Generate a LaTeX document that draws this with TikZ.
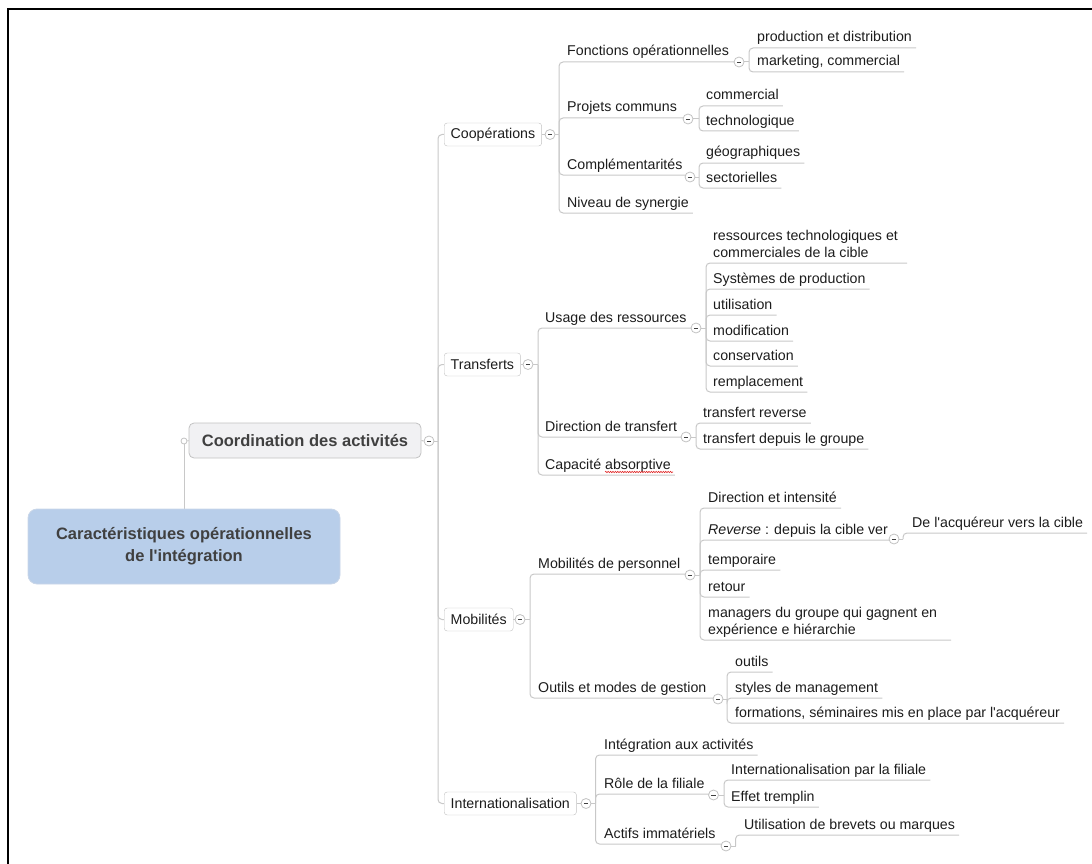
\documentclass[tikz,border=0pt]{standalone}
\usepackage{fontspec}
\setmainfont{Liberation Sans}
\usetikzlibrary{decorations.pathmorphing}
\definecolor{lncol}{HTML}{C8C8C8}
\definecolor{boxbd}{HTML}{C2C2C2}
\definecolor{rootfill}{HTML}{B8CEEA}
\definecolor{rootbd}{HTML}{C9D6E8}
\definecolor{cofill}{HTML}{F1F1F3}
\definecolor{txt}{HTML}{1C1C1C}
\definecolor{btxt}{HTML}{404040}
\definecolor{spell}{HTML}{E02828}
\pgfdeclarelayer{bg}
\pgfsetlayers{bg,main}
\newcommand\sq{\textquotesingle}
% leaf: name, text x, underline y, bracket x, join y, text
\newcommand\lf[6]{%
  \node[topic] (#1) at (#2,#3-6) {#6};
  \begin{pgfonlayer}{bg}\draw[ln] (#4,#5) |- ([xshift=4pt,yshift=-6pt]#1.base east);\end{pgfonlayer}}
% parent: name, text x, underline y, parent bracket x, parent join y, toggle x, toggle y, own bracket x, text
\newcommand\pr[9]{%
  \node[topic] (#1) at (#2,#3-6) {#9};
  \node[tog] (#1t) at (#6,#7) {};
  \begin{pgfonlayer}{bg}
  \draw[ln] (#4,#5) |- (#6-4,#3);
  \draw[ln] (#1t.east) -- (#8,#7);
  \end{pgfonlayer}}
% level one: name, centre y, toggle x, bracket x, text
\newcommand\lv[5]{%
  \node[lvl] (#1) at (444,#2) {#5};
  \node[tog] (#1t) at (#3,#2) {};
  \begin{pgfonlayer}{bg}
  \draw[ln] (trunk) |- (#1.west);
  \draw[ln] (#1.east) -- (#1t.west);
  \draw[ln] (#1t.east) -- (#4,#2);
  \end{pgfonlayer}}
\begin{document}
\begin{tikzpicture}[x=1pt,y=-1pt,
  ln/.style={draw=lncol, line width=1pt, rounded corners=4pt},
  topic/.style={inner sep=0pt, anchor=base west, text=txt, font=\fontsize{14.2}{17}\selectfont},
  lvl/.style={draw=boxbd, fill=white, rounded corners=3pt, minimum height=23pt, inner xsep=6.5pt, inner ysep=0pt, anchor=west, text=txt, font=\fontsize{14.2}{17}\selectfont},
  tog/.style={circle, draw=boxbd, fill=white, minimum size=10pt, inner sep=0pt, line width=0.8pt,
    path picture={\draw[btxt, line width=0.9pt] ([xshift=-2.2pt]path picture bounding box.center) -- ([xshift=2.2pt]path picture bounding box.center);}},
  bigbox/.style={rounded corners=9pt, text=btxt, font=\fontsize{16.5}{22}\selectfont\bfseries, align=center, line width=0.8pt}
]
\useasboundingbox (0,0) rectangle (1092,864);
\draw[line width=2pt, black] (8,864) -- (8,9.5) -- (1092,9.5);

% root and main topic
\node[bigbox, draw=rootbd, fill=rootfill, minimum width=312pt, minimum height=75pt] (root) at (184,546.5) {Caractéristiques opérationnelles\\de l\sq intégration};
\node[bigbox, rounded corners=5pt, draw=boxbd, fill=cofill, minimum width=232pt, minimum height=35pt] (coord) at (305,440.5) {Coordination des activités};
\node[circle, draw=boxbd, fill=white, minimum size=6pt, inner sep=0pt, line width=0.8pt] (rc) at (184,441) {};
\node[tog] (coordt) at (429,441) {};
\coordinate (trunk) at (438,441);
\begin{pgfonlayer}{bg}
\draw[ln] (rc.south) -- (root.north);
\draw[ln] (rc.east) -- (coord.west);
\draw[ln] (coord.east) -- (coordt.west);
\draw[ln] (coordt.east) -- (trunk);
\end{pgfonlayer}

% Coopérations
\lv{coop}{134.5}{550}{559}{Coopérations}
\pr{fonc}{567}{62}{559}{134.5}{739}{62}{749}{Fonctions opérationnelles}
\lf{prod}{757}{48}{749}{62}{production et distribution}
\lf{mark}{757}{72}{749}{62}{marketing, commercial}
\pr{proj}{567}{118}{559}{134.5}{688}{119}{699}{Projets communs}
\lf{comm}{706}{106}{699}{119}{commercial}
\lf{tech}{706}{131}{699}{119}{technologique}
\pr{compl}{567}{175}{559}{134.5}{690}{177}{699}{Complémentarités}
\lf{geo}{706}{163}{699}{177}{géographiques}
\lf{sect}{706}{188}{699}{177}{sectorielles}
\lf{niv}{567}{213}{559}{134.5}{Niveau de synergie}

% Transferts
\lv{trans}{364.5}{528}{538}{Transferts}
\pr{usage}{545}{328}{538}{364.5}{696}{328}{706}{Usage des ressources}
\node[topic, align=left, anchor=north west] (rtc) at (713,229.8) {ressources technologiques et\\commerciales de la cible};
\coordinate (rtce) at (907,263);
\begin{pgfonlayer}{bg}\draw[ln] (706,328) |- (rtce);\end{pgfonlayer}
\lf{sys}{713}{289}{706}{328}{Systèmes de production}
\lf{util}{713}{315}{706}{328}{utilisation}
\lf{modi}{713}{341}{706}{328}{modification}
\lf{cons}{713}{366}{706}{328}{conservation}
\lf{rempl}{713}{392}{706}{328}{remplacement}
\pr{dir}{545}{437}{538}{364.5}{686}{437}{696}{Direction de transfert}
\lf{trev}{703}{423}{696}{437}{transfert reverse}
\lf{tdep}{703}{449}{696}{437}{transfert depuis le groupe}
\lf{capa}{545}{475}{538}{364.5}{Capacité absorptive}
\draw[spell, line width=0.6pt, decorate, decoration={snake, amplitude=0.7pt, segment length=2.4pt}] (605,472) -- (673,472);

% Mobilités
\lv{mob}{619.5}{520}{530}{Mobilités}
\pr{mper}{538}{574}{530}{619.5}{690}{575}{700}{Mobilités de personnel}
\lf{dint}{708}{508}{700}{575}{Direction et intensité}
\pr{rev}{708}{540}{700}{575}{894}{539}{903}{\textit{Reverse} : depuis la cible ver}
\lf{acq}{912}{533}{903}{539}{De l\sq acquéreur vers la cible}
\lf{temp}{708}{570}{700}{575}{temporaire}
\lf{ret}{708}{597}{700}{575}{retour}
\node[topic, align=left, anchor=north west] (mgr) at (708,606.8) {managers du groupe qui gagnent en\\expérience e hiérarchie};
\coordinate (mgre) at (951,640);
\begin{pgfonlayer}{bg}\draw[ln] (700,575) |- (mgre);\end{pgfonlayer}
\pr{outm}{538}{698}{530}{619.5}{718}{699}{727}{Outils et modes de gestion}
\lf{outi}{735}{672}{727}{699}{outils}
\lf{styl}{735}{698}{727}{699}{styles de management}
\lf{form}{735}{723}{727}{699}{formations, séminaires mis en place par l\sq acquéreur}

% Internationalisation
\lv{intl}{803.5}{586}{595.5}{Internationalisation}
\lf{inte}{604}{755}{595.5}{803.5}{Intégration aux activités}
\pr{role}{604}{794}{595.5}{803.5}{713.5}{795}{724}{Rôle de la filiale}
\lf{ipf}{731}{780}{724}{795}{Internationalisation par la filiale}
\lf{eff}{731}{807}{724}{795}{Effet tremplin}
\pr{actif}{604}{844}{595.5}{803.5}{726}{846}{735.5}{Actifs immatériels}
\lf{brev}{744}{835}{735.5}{846}{Utilisation de brevets ou marques}
\end{tikzpicture}
\end{document}
